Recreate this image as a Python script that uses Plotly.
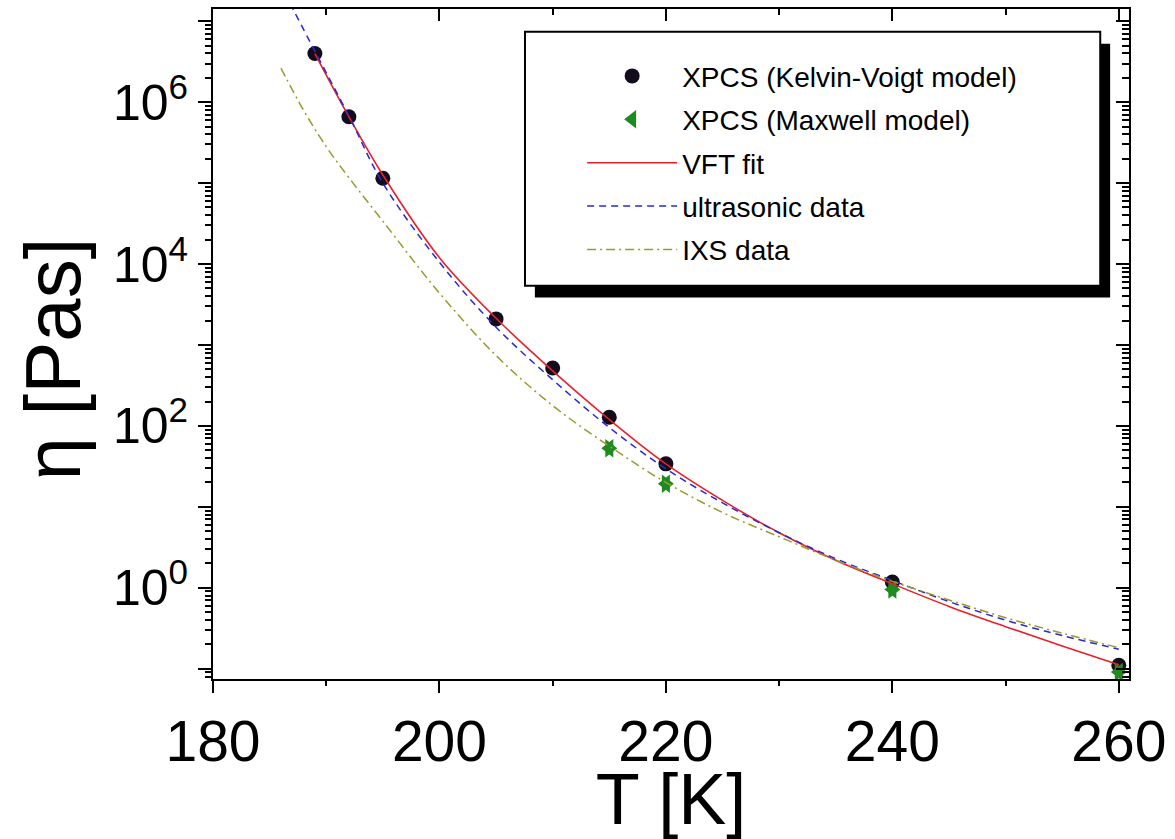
import math
import plotly.graph_objects as go

# ---- data ----
kv_T = [189, 192, 195, 205, 210, 215, 220, 240, 260]
kv_eta = [4.0e6, 6.6e5, 1.15e5, 2.1e3, 520, 128, 34, 1.18, 0.11]

mx_T = [215, 220, 240, 260]
mx_eta = [53, 19.3, 0.95, 0.091]

vft_T = [189, 192, 195, 200, 205, 210, 215, 220, 225, 230, 235, 240, 245, 250, 255, 260]
vft_eta = [3.98e6, 6.6e5, 1.26e5, 1.2e4, 2140, 479, 120, 33.9, 12.0, 4.79, 2.19, 1.12,
           0.589, 0.331, 0.191, 0.112]

us_T = [186.8, 189, 192, 195, 200, 205, 210, 215, 220, 225, 230, 235, 240, 245, 250, 255, 260]
us_eta = [1.66e7, 4.27e6, 6.76e5, 1.0e5, 1.05e4, 1660, 372, 95.5, 29.5, 11.2, 4.79, 2.29,
          1.23, 0.676, 0.398, 0.257, 0.174]

ixs_T = [186, 188, 190, 192, 195, 200, 205, 210, 215, 220, 225, 230, 235, 240, 245, 250, 255, 260]
ixs_eta = [2.63e6, 7.94e5, 2.82e5, 1.17e5, 3.39e4, 4.37e3, 741, 178, 56.2, 20.0, 8.51, 4.27,
           2.19, 1.20, 0.708, 0.427, 0.275, 0.182]

x_major = [180, 200, 220, 240, 260]
x_minor = [190, 210, 230, 250]
y_major = [1e-1, 1e0, 1e1, 1e2, 1e3, 1e4, 1e5, 1e6, 1e7]
y_major_text = ["", "10<sup>0</sup>", "", "10<sup>2</sup>", "", "10<sup>4</sup>", "", "10<sup>6</sup>", ""]

X_RANGE = [180, 260.9]
Y_RANGE = [-1.127, 7.151]

y_minor = [k * 10 ** d for d in range(-2, 7) for k in range(2, 10)
           if Y_RANGE[0] <= math.log10(k * 10 ** d) <= Y_RANGE[1]]

FONT = "Arial, 'Liberation Sans', sans-serif"

fig = go.Figure()

fig.add_trace(go.Scatter(x=kv_T, y=kv_eta, mode="markers", name="XPCS (Kelvin-Voigt model)",
                         marker=dict(symbol="circle", size=15, color="#120c1c"),
                         legendrank=1, legendgroup="a"))
fig.add_trace(go.Scatter(x=mx_T, y=mx_eta, mode="markers", showlegend=False,
                         marker=dict(symbol="triangle-right", size=16, color="#1f8a1f"),
                         legendgroup="b"))
fig.add_trace(go.Scatter(x=mx_T, y=mx_eta, mode="markers", name="XPCS (Maxwell model)",
                         marker=dict(symbol="triangle-left", size=16, color="#1f8a1f"),
                         legendrank=2, legendgroup="b"))
fig.add_trace(go.Scatter(x=vft_T, y=vft_eta, mode="lines", name="VFT fit",
                         line=dict(color="#e8202a", width=1.6, shape="spline"),
                         legendrank=3, legendgroup="c"))
fig.add_trace(go.Scatter(x=us_T, y=us_eta, mode="lines", name="ultrasonic data",
                         line=dict(color="#2a2ad0", width=1.5, dash="7px,5px", shape="spline"),
                         legendrank=4, legendgroup="d"))
fig.add_trace(go.Scatter(x=ixs_T, y=ixs_eta, mode="lines", name="IXS data",
                         line=dict(color="#9a9a30", width=1.5, dash="9px,4px,2px,4px", shape="spline"),
                         legendrank=5, legendgroup="e"))

# empty traces so the overlay axes exist
for xa, ya in [("x2", "y2"), ("x3", "y3"), ("x4", "y4")]:
    fig.add_trace(go.Scatter(x=[], y=[], xaxis=xa, yaxis=ya, showlegend=False, hoverinfo="skip"))

axis_common = dict(showgrid=False, zeroline=False, linecolor="black", linewidth=2,
                   tickcolor="black", tickwidth=2)

fig.update_layout(
    width=1175, height=839,
    margin=dict(l=213, r=40, t=9, b=154),
    paper_bgcolor="white", plot_bgcolor="white",
    font=dict(family=FONT, color="black"),
    xaxis=dict(range=X_RANGE, tickvals=x_major, ticks="outside", ticklen=12,
               tickfont=dict(size=57, family=FONT), showline=True, mirror=False,
               title=dict(text="T [K]", font=dict(size=72, family=FONT), standoff=6),
               **axis_common),
    yaxis=dict(type="log", range=Y_RANGE, tickvals=y_major, ticktext=y_major_text,
               ticks="outside", ticklen=13, tickfont=dict(size=50, family=FONT),
               showline=True, mirror=False, **axis_common),
    xaxis2=dict(range=X_RANGE, overlaying="x", side="top", anchor="y2", tickvals=x_major,
                ticks="inside", ticklen=12, showticklabels=False, showline=True, **axis_common),
    yaxis2=dict(type="log", range=Y_RANGE, overlaying="y", side="right", anchor="x2",
                tickvals=y_major, ticks="inside", ticklen=13, showticklabels=False,
                showline=True, **axis_common),
    xaxis3=dict(range=X_RANGE, overlaying="x", side="bottom", anchor="y3", tickvals=x_minor,
                ticks="outside", ticklen=6, showticklabels=False, showline=False, **axis_common),
    yaxis3=dict(type="log", range=Y_RANGE, overlaying="y", side="left", anchor="x3",
                tickvals=y_minor, ticks="outside", ticklen=7, showticklabels=False,
                showline=False, **axis_common),
    xaxis4=dict(range=X_RANGE, overlaying="x", side="top", anchor="y4", tickvals=x_minor,
                ticks="inside", ticklen=6, showticklabels=False, showline=False, **axis_common),
    yaxis4=dict(type="log", range=Y_RANGE, overlaying="y", side="right", anchor="x4",
                tickvals=y_minor, ticks="inside", ticklen=7, showticklabels=False,
                showline=False, **axis_common),
    legend=dict(x=0.403, y=0.937, xanchor="left", yanchor="top",
                bgcolor="rgba(0,0,0,0)", borderwidth=0, itemwidth=90,
                font=dict(size=28, family=FONT), tracegroupgap=4, traceorder="grouped"),
    showlegend=True,
)

# y-axis title (placed as rotated text, slightly below the axis centre as in the original)
fig.add_annotation(text="η [Pas]", xref="paper", yref="paper", x=-0.175, y=0.478,
                   xanchor="center", yanchor="middle", textangle=-90, showarrow=False,
                   font=dict(size=78, family=FONT, color="black"))

# legend frame with drop shadow
fig.add_shape(type="rect", xref="paper", yref="paper", x0=0.3514, x1=0.9794, y0=0.5695, y1=0.948,
              fillcolor="black", line=dict(width=0), layer="above")
fig.add_shape(type="rect", xref="paper", yref="paper", x0=0.3406, x1=0.9686, y0=0.587, y1=0.966,
              fillcolor="white", line=dict(color="black", width=2), layer="above")

fig.write_html("out.html")
